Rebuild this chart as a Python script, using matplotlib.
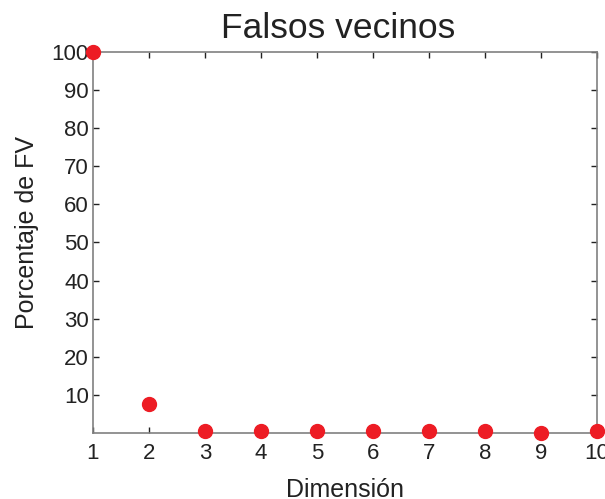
import matplotlib.pyplot as plt

plt.rcParams['font.family'] = ['Liberation Sans', 'DejaVu Sans']

dimension = [1, 2, 3, 4, 5, 6, 7, 8, 9, 10]
porcentaje_fv = [100, 7.5, 0.4, 0.4, 0.4, 0.4, 0.4, 0.4, 0.1, 0.4]
yticks = [10, 20, 30, 40, 50, 60, 70, 80, 90, 100]

fig = plt.figure(figsize=(6.05, 4.99), dpi=100)
ax = fig.add_axes([0.1537, 0.1323, 0.8331, 0.7635])

ax.plot(dimension, porcentaje_fv, 'o', color='#ED1C24', markersize=10, clip_on=False, zorder=5)

ax.set_xlim(1, 10)
ax.set_ylim(0, 100)
ax.set_xticks(dimension)
ax.set_yticks(yticks)
ax.tick_params(direction='in', length=4, width=1, color='#222222', labelsize=16,
               top=True, right=True, labelcolor='#222222')
ax.tick_params(axis='x', pad=7)
ax.tick_params(axis='y', pad=3)
for s in ax.spines.values():
    s.set_color('#808080')
    s.set_linewidth(1.2)

fig.text(338 / 605, 1 - 38 / 499, 'Falsos vecinos', fontsize=25.5, color='#222222',
         ha='center', va='baseline')
ax.set_xlabel('Dimensión', fontsize=18, color='#222222', labelpad=10)
ax.set_ylabel('Porcentaje de FV', fontsize=18, color='#222222', labelpad=9, y=0.525)

fig.savefig('out.png', dpi=100)
